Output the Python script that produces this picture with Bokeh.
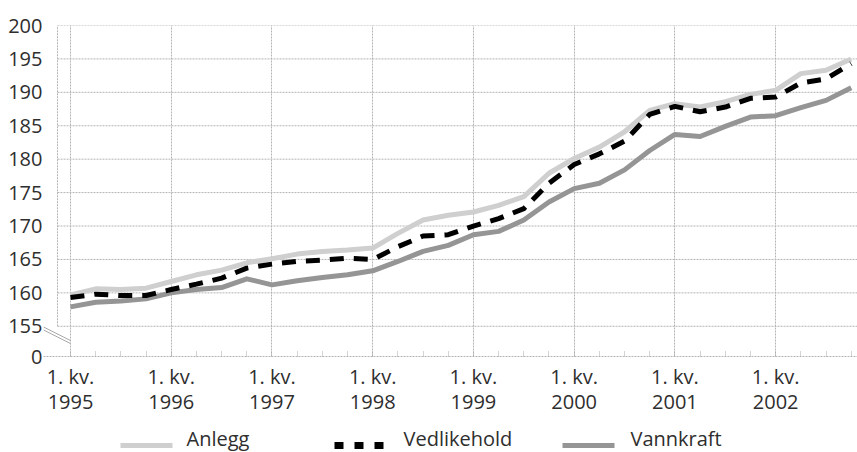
from bokeh.plotting import figure
from bokeh.layouts import column
from bokeh.models import FixedTicker, Range1d
from bokeh.core.properties import value
from bokeh.embed import file_html
from bokeh.resources import INLINE

# ---- data (index per quarter, 1995 Q1 .. 2002 Q4) ----
years = ["1995", "1996", "1997", "1998", "1999", "2000", "2001", "2002"]
quarter_label = "1. kv."
anlegg = [159.7, 160.6, 160.5, 160.7, 161.7, 162.7, 163.4, 164.5,
          165.1, 165.8, 166.2, 166.4, 166.7, 168.9, 170.9, 171.6,
          172.1, 173.1, 174.4, 177.9, 180.1, 181.8, 184.1, 187.3,
          188.3, 187.8, 188.6, 189.7, 190.3, 192.8, 193.3, 195.0]
vedlikehold = [159.3, 159.8, 159.6, 159.6, 160.5, 161.3, 162.2, 163.7,
               164.3, 164.7, 164.9, 165.2, 165.0, 166.9, 168.5, 168.7,
               170.0, 171.1, 172.6, 176.4, 179.2, 180.8, 182.7, 186.7,
               187.9, 187.1, 187.8, 189.1, 189.3, 191.4, 192.0, 194.3]
vannkraft = [157.9, 158.6, 158.8, 159.1, 160.0, 160.5, 160.8, 162.1,
             161.2, 161.8, 162.3, 162.7, 163.3, 164.7, 166.2, 167.1,
             168.7, 169.2, 170.9, 173.6, 175.6, 176.4, 178.4, 181.3,
             183.7, 183.4, 184.9, 186.3, 186.5, 187.7, 188.8, 190.7]
y_ticks = [155, 160, 165, 170, 175, 180, 185, 190, 195, 200]
y_break_label = "0"
y_break_pos = 150.48  # axis is broken: the "0" tick sits just below 155
series_names = ["Anlegg", "Vedlikehold", "Vannkraft"]

x = list(range(len(anlegg)))
FONT = "Open Sans"
GRID = "#b4b4b4"
TEXT = "#2e2e2e"
COL_ANL, COL_VAN, COL_VED = "#cfcfcf", "#959595", "black"

X_START, X_END = -1.072, 31.25
BORDER_X = -0.516  # left border of the grid area (the break sits left of it)
FRAME_LEFT = 43

p = figure(width=857, height=418, output_backend="svg", toolbar_location=None,
           x_range=Range1d(X_START, X_END), y_range=Range1d(y_break_pos, 200),
           min_border_left=FRAME_LEFT, min_border_right=0, min_border_top=25,
           min_border_bottom=61)
p.outline_line_color = None
p.background_fill_color = "white"
p.border_fill_color = "white"

# horizontal grid lines and left border, drawn from the tick list
p.segment(x0=[BORDER_X] * len(y_ticks), x1=[X_END] * len(y_ticks),
          y0=y_ticks, y1=y_ticks, line_color=GRID, line_dash="2 1", line_width=1)
p.segment(x0=[BORDER_X], x1=[BORDER_X], y0=[y_ticks[0]], y1=[y_ticks[-1]],
          line_color=GRID, line_dash="2 1", line_width=1)
# axis-break marks (two parallel strokes)
brk_dy = (y_ticks[0] - y_break_pos) * 0.45
p.segment(x0=[X_START, X_START], x1=[0, 0],
          y0=[y_ticks[0] - 0.1, y_ticks[0] - 0.55],
          y1=[y_ticks[0] - 0.1 - brk_dy, y_ticks[0] - 0.55 - brk_dy],
          line_color="#a8a8a8", line_width=1)

p.line(x, anlegg, line_color=COL_ANL, line_width=5, line_join="round")
p.line(x, vannkraft, line_color=COL_VAN, line_width=5, line_join="round")
p.line(x, vedlikehold, line_color=COL_VED, line_width=5, line_dash="14 10", line_join="round")

# y axis
p.yaxis.ticker = FixedTicker(ticks=[y_break_pos] + y_ticks)
p.yaxis.major_label_overrides = {y_break_pos: y_break_label}
p.yaxis.axis_line_color = None
p.yaxis.major_tick_line_color = None
p.yaxis.minor_tick_line_color = None
p.yaxis.major_label_standoff = -5
p.yaxis.major_label_text_font = FONT
p.yaxis.major_label_text_font_size = "20px"
p.yaxis.major_label_text_color = TEXT
p.ygrid.grid_line_color = None

# x axis
year_ticks = [4 * i for i in range(len(years))]
p.xaxis.ticker = FixedTicker(ticks=year_ticks, minor_ticks=x)
p.xaxis.major_label_overrides = {t: f"{quarter_label}\n{y}" for t, y in zip(year_ticks, years)}
p.xaxis.axis_line_color = GRID
p.xaxis.axis_line_dash = "2 1"
p.xaxis.major_tick_line_color = None
p.xaxis.minor_tick_line_color = "#a8a8a8"
p.xaxis.minor_tick_line_dash = "1 1"
p.xaxis.minor_tick_in = 6
p.xaxis.minor_tick_out = 0
p.xaxis.major_label_standoff = 0
p.xaxis.major_label_text_font = FONT
p.xaxis.major_label_text_font_size = "20px"
p.xaxis.major_label_text_color = TEXT
p.xaxis.major_label_text_line_height = 0.95

p.xgrid.grid_line_color = GRID
p.xgrid.grid_line_dash = "2 1"
p.xgrid.grid_line_width = 1

# ---- legend strip (small figure below the chart, in page pixels) ----
LG_W, LG_H = 857, 34
lg = figure(width=LG_W, height=LG_H, output_backend="svg", toolbar_location=None,
            x_range=Range1d(FRAME_LEFT, LG_W), y_range=Range1d(0, LG_H),
            x_axis_location=None, y_axis_location=None,
            min_border_left=FRAME_LEFT, min_border_right=0, min_border_top=0,
            min_border_bottom=0)
lg.outline_line_color = None
lg.grid.grid_line_color = None
lg.background_fill_color = "white"
lg.border_fill_color = "white"

key_x = [120, 334, 562]       # left end of each key sample
key_len = 50
label_gap = [16, 19, 18]
key_y = 7
lg.segment(x0=[key_x[0]], x1=[key_x[0] + key_len + 2], y0=[key_y], y1=[key_y],
           line_color=COL_ANL, line_width=5)
lg.segment(x0=[key_x[1]], x1=[key_x[1] + key_len], y0=[key_y], y1=[key_y],
           line_color=COL_VED, line_width=7, line_dash="9 11")
lg.segment(x0=[key_x[2]], x1=[key_x[2] + key_len + 2], y0=[key_y], y1=[key_y],
           line_color=COL_VAN, line_width=5)
lg.text(x=[kx + key_len + g for kx, g in zip(key_x, label_gap)], y=[14] * 3,
        text=series_names, text_font=value(FONT), text_font_size="20px",
        text_color=TEXT, text_baseline="middle", text_align="left")

layout = column(p, lg, spacing=0)
open("out.html", "w").write(file_html(layout, INLINE))
